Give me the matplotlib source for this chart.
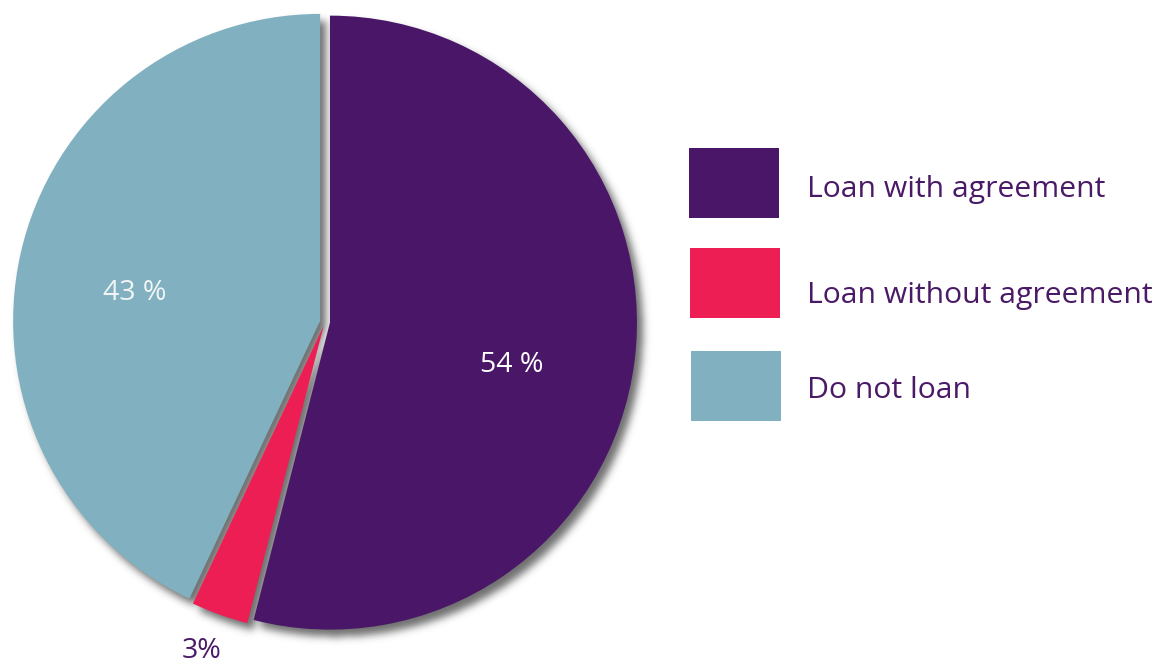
import matplotlib
matplotlib.use("Agg")
import matplotlib.pyplot as plt
from matplotlib.patches import Rectangle
import numpy as np

W, H = 1159, 664

labels = ["Loan with agreement", "Loan without agreement", "Do not loan"]
shares = [54, 3, 43]
pct_text = ["54 %", "3%", "43 %"]
colors = ["#4a1768", "#ed1e54", "#81b1c0"]
text_purple = "#4a1a66"

plt.rcParams['font.family'] = ['Open Sans', 'DejaVu Sans']

fig = plt.figure(figsize=(W / 100, H / 100), dpi=100)
ax = fig.add_axes([0, 0, 1, 1])

# pie drawn in pixel-like data units (y measured upward)
cx, cy, rad = 325, H - 322, 307
wedges, _ = ax.pie(shares, colors=colors, startangle=90, counterclock=False,
                   center=(cx, cy), radius=rad, explode=[5, 4, 5],
                   wedgeprops=dict(linewidth=0, zorder=3))

# soft drop shadow: rasterise the wedges, offset and blur
yy, xx = np.mgrid[0:H, 0:W]
pts = np.column_stack([xx.ravel() + 0.5, (H - yy.ravel() - 0.5)])
mask = np.zeros(H * W)
for w in wedges:
    path = w.get_path().transformed(w.get_patch_transform())
    mask = np.maximum(mask, path.contains_points(pts))
mask = mask.reshape(H, W)

dx, dy = 6, 7
mask = np.roll(np.roll(mask, dy, axis=0), dx, axis=1)

sig = 4.0
k = np.exp(-0.5 * (np.arange(-12, 13) / sig) ** 2)
k /= k.sum()
pad = 12
m = np.pad(mask, pad)
# separable blur
m1 = np.zeros((H + 2 * pad, W))
for i in range(len(k)):
    m1 += k[i] * m[:, i:i + W]
m2 = np.zeros((H, W))
for i in range(len(k)):
    m2 += k[i] * m1[i:i + H, :]

shadow = np.zeros((H, W, 4))
shadow[..., :3] = 0.28
shadow[..., 3] = np.clip(m2, 0, 1) * 0.78
ax.imshow(shadow, extent=(0, W, 0, H), origin='upper', zorder=1,
          interpolation='bilinear')

# value labels
ax.text(512, H - 372, pct_text[0], color='white', fontsize=20.5,
        ha='center', va='baseline', zorder=5)
ax.text(135, H - 300, pct_text[2], color='#f2f4f5', fontsize=20.5,
        ha='center', va='baseline', zorder=5)
ax.text(202, H - 658, pct_text[1], color=text_purple, fontsize=20.5,
        ha='center', va='baseline', zorder=5)

# legend
box_tops = [148, 248, 351]
box_x = [689, 690, 691]
baselines = [197, 303, 398]
for lab, col, top, bx, bl in zip(labels, colors, box_tops, box_x, baselines):
    ax.add_patch(Rectangle((bx, H - top - 70), 90, 70, facecolor=col,
                           linewidth=0, zorder=3))
    ax.text(807, H - bl, lab, color=text_purple, fontsize=21.7,
            ha='left', va='baseline', zorder=5)

ax.set_xlim(0, W)
ax.set_ylim(0, H)
ax.set_aspect('equal')
ax.axis('off')

plt.savefig("out.png", dpi=100)
